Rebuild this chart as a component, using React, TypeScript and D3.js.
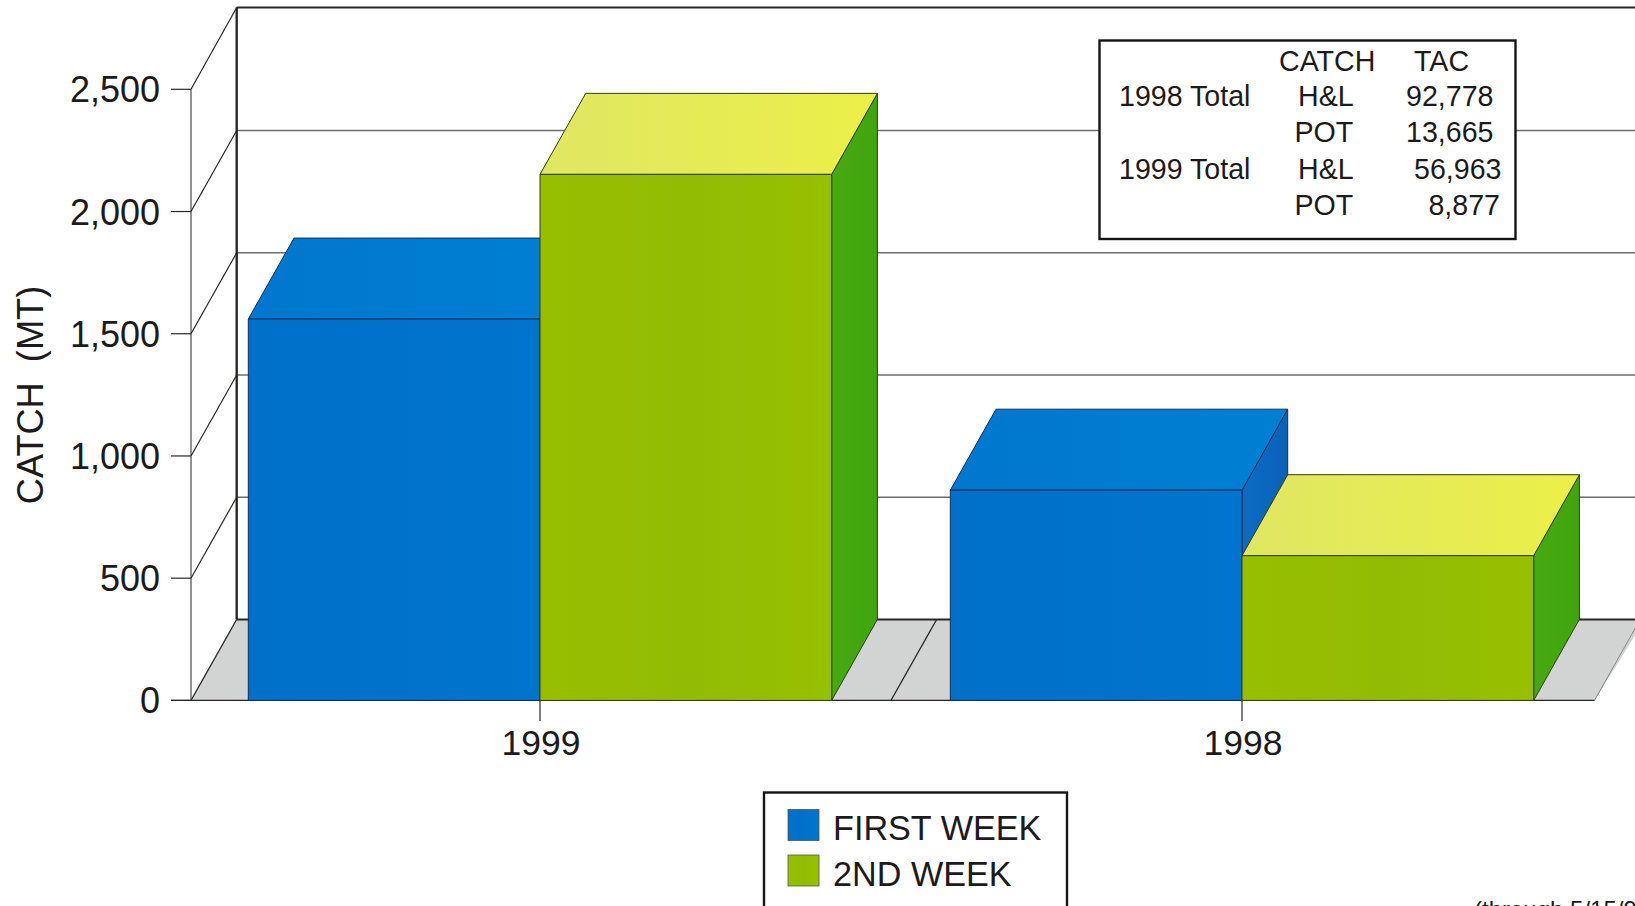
import React from "react";
import * as d3 from "d3";

const years = ["1999", "1998"];
const seriesNames = ["FIRST WEEK", "2ND WEEK"];
const firstWeek = [1560, 860];
const secondWeek = [2152, 592];
const yTicks = [0, 500, 1000, 1500, 2000, 2500];
const gridValues = [500, 1000, 1500, 2000];
const tableHead = ["CATCH", "TAC"];
const tableYears = ["1998 Total", "", "1999 Total", ""];
const tableGears = ["H&L", "POT", "H&L", "POT"];
const tableTac = ["92,778", "13,665", "56,963", "8,877"];
const footnote = "(through 5/15/99)";

const W = 1635;
const H = 906;
const DX = 45.7;
const DY = 81;
const FONT = "'Liberation Sans', Arial, sans-serif";
const INK = "#2a2626";

const y = d3.scaleLinear().domain([0, 2500]).range([700.4, 89.3]);
const x0 = d3.scaleBand<string>().domain(years).range([189, 1593]);
const x1 = d3.scaleBand<string>().domain(seriesNames).range([59.3, 642.7]);

const poly = (pts: [number, number][]) => pts.map((p) => p.join(",")).join(" ");

function Bar({ cat, name, value, series }: { cat: string; name: string; value: number; series: number }) {
  const l = (x0(cat) ?? 0) + (x1(name) ?? 0);
  const r = l + x1.bandwidth();
  const t = y(value);
  const b = y(0);
  const s = series === 0 ? "blue" : "green";
  const edge = series === 0 ? "#10305a" : "#2f4010";
  return (
    <g stroke={edge} strokeWidth={1} strokeLinejoin="round">
      <polygon points={poly([[r, t], [r + DX, t - DY], [r + DX, b - DY], [r, b]])} fill={`url(#${s}Side)`} />
      <polygon points={poly([[l, t], [r, t], [r + DX, t - DY], [l + DX, t - DY]])} fill={`url(#${s}Top)`} />
      <rect x={l} y={t} width={r - l} height={b - t} fill={`url(#${s}Front)`} />
    </g>
  );
}

export default function App() {
  const left = 191;
  const back = left + DX;
  const y0 = y(0);
  const floorRight = x0.range()[1] + 1.5;
  const wallTop = 7.5;
  return (
    <svg
      width={W}
      height={H}
      viewBox={`0 0 ${W} ${H}`}
      style={{ position: "absolute", left: 0, top: 0, display: "block", background: "#fff" }}
      fontFamily={FONT}
      fill="#1c1a1a"
    >
      <defs>
        <linearGradient id="blueFront" x1="0" x2="1" y1="0" y2="0">
          <stop offset="0" stopColor="#0070c9" />
          <stop offset="1" stopColor="#0074ce" />
        </linearGradient>
        <linearGradient id="blueTop" x1="0" x2="1" y1="0" y2="0">
          <stop offset="0" stopColor="#0077ce" />
          <stop offset="1" stopColor="#0080d2" />
        </linearGradient>
        <linearGradient id="blueSide" x1="0" x2="1" y1="0" y2="0">
          <stop offset="0" stopColor="#0c6cc4" />
          <stop offset="1" stopColor="#0a62b8" />
        </linearGradient>
        <linearGradient id="greenFront" x1="0" x2="1" y1="0" y2="0">
          <stop offset="0" stopColor="#97bf00" />
          <stop offset="0.5" stopColor="#92bc04" />
          <stop offset="1" stopColor="#97c000" />
        </linearGradient>
        <linearGradient id="greenTop" x1="0" x2="1" y1="0" y2="0">
          <stop offset="0" stopColor="#dfe762" />
          <stop offset="1" stopColor="#ecef48" />
        </linearGradient>
        <linearGradient id="greenSide" x1="0" x2="1" y1="0" y2="0">
          <stop offset="0" stopColor="#48aa10" />
          <stop offset="1" stopColor="#3fa50e" />
        </linearGradient>
      </defs>

      {/* floor */}
      <polygon
        points={poly([[left, y0], [back, y0 - DY], [W + 10, y0 - DY], [floorRight, y0]])}
        fill="#d2d3d3"
        stroke="none"
      />
      <line x1={left} y1={y0} x2={back} y2={y0 - DY} stroke={INK} strokeWidth={1.2} />
      <line x1={floorRight} y1={y0} x2={floorRight + DX} y2={y0 - DY} stroke="#8a8888" strokeWidth={1} />
      <line
        x1={x0("1998") ?? 0}
        y1={y0}
        x2={(x0("1998") ?? 0) + DX}
        y2={y0 - DY}
        stroke={INK}
        strokeWidth={1.2}
      />

      {/* back wall */}
      {gridValues.map((v) => (
        <line key={v} x1={back} x2={W} y1={y(v) - DY} y2={y(v) - DY} stroke="#6e6c6c" strokeWidth={1.5} />
      ))}
      <line x1={back} x2={W} y1={y0 - DY} y2={y0 - DY} stroke={INK} strokeWidth={2} />
      <line x1={back} x2={W} y1={wallTop} y2={wallTop} stroke={INK} strokeWidth={2.2} />
      <line x1={back} x2={back} y1={wallTop} y2={y0 - DY} stroke={INK} strokeWidth={2.4} />

      {/* side wall and y axis */}
      <line x1={left} x2={left} y1={y(2500)} y2={y0} stroke="#5a5656" strokeWidth={1.3} />
      {yTicks.map((v) => (
        <g key={v}>
          <line x1={left - 20} x2={left} y1={y(v)} y2={y(v)} stroke={INK} strokeWidth={1.2} />
          {v > 0 && (
            <line x1={left} x2={back} y1={y(v)} y2={v === 2500 ? wallTop : y(v) - DY} stroke={INK} strokeWidth={1.2} />
          )}
          <text x={160} y={y(v) + 13} textAnchor="end" fontSize={36}>
            {d3.format(",")(v)}
          </text>
        </g>
      ))}

      {/* baseline */}
      <line x1={left - 20} x2={floorRight} y1={y0} y2={y0} stroke={INK} strokeWidth={1.4} />

      {/* bars */}
      {years.map((cat, i) => (
        <g key={cat}>
          <Bar cat={cat} name={seriesNames[0]} value={firstWeek[i]} series={0} />
          <Bar cat={cat} name={seriesNames[1]} value={secondWeek[i]} series={1} />
        </g>
      ))}

      {/* x axis */}
      {years.map((cat) => {
        const cx = (x0(cat) ?? 0) + x0.bandwidth() / 2;
        return (
          <g key={cat}>
            <line x1={cx} x2={cx} y1={y0} y2={721} stroke={INK} strokeWidth={1.2} />
            <text x={cx + 1} y={754.5} textAnchor="middle" fontSize={35.5}>
              {cat}
            </text>
          </g>
        );
      })}

      {/* y title */}
      <text
        transform="translate(43,395) rotate(-90)"
        textAnchor="middle"
        fontSize={36.2}
        style={{ whiteSpace: "pre" }}
      >
        {"CATCH  (MT)"}
      </text>

      {/* table */}
      <rect x={1099.5} y={40.5} width={416} height={198.5} fill="#fff" stroke="#161414" strokeWidth={2.4} />
      <g fontSize={28.6}>
        <text x={1279} y={71}>{tableHead[0]}</text>
        <text x={1414} y={71}>{tableHead[1]}</text>
        {tableGears.map((g, i) => {
          const by = [106, 142, 178.5, 214.5][i];
          const gx = [1298, 1294.5, 1298, 1294.5][i];
          const tacRight = [1493.5, 1493.5, 1501.5, 1500][i];
          return (
            <g key={i}>
              <text x={1119} y={by}>{tableYears[i]}</text>
              <text x={gx} y={by}>{g}</text>
              <text x={tacRight} y={by} textAnchor="end">{tableTac[i]}</text>
            </g>
          );
        })}
      </g>

      {/* legend */}
      <rect x={764} y={792.5} width={303} height={120} fill="#fff" stroke="#161414" strokeWidth={2.4} />
      {seriesNames.map((n, i) => (
        <g key={n}>
          <rect
            x={788}
            y={[809.5, 855][i]}
            width={31}
            height={31}
            fill={i === 0 ? "url(#blueFront)" : "url(#greenFront)"}
            stroke="#4a5a50"
            strokeWidth={0.8}
          />
          <text x={833} y={[840, 885.5][i]} fontSize={34.2}>
            {n}
          </text>
        </g>
      ))}

      <text x={1474} y={918} fontSize={24}>{footnote}</text>
    </svg>
  );
}
